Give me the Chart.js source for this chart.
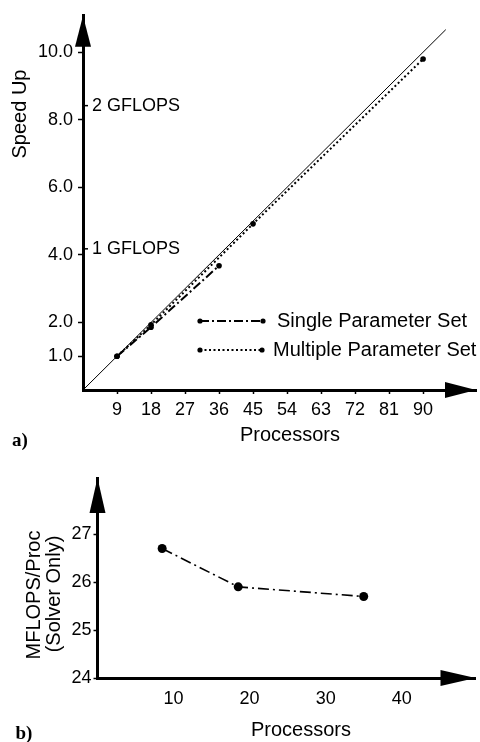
<!DOCTYPE html>
<html>
<head>
<meta charset="utf-8">
<script src="https://cdn.jsdelivr.net/npm/chart.js@4"></script>
<style>
  html, body { margin: 0; padding: 0; background: #fff; }
  #wrap { position: relative; width: 480px; height: 742px; }
  #speedup { position: absolute; left: 0; top: 0; }
  #rate { position: absolute; left: 0; top: 440px; }
</style>
</head>
<body>
<div id="wrap">
  <canvas id="speedup" width="480" height="460"></canvas>
  <canvas id="rate" width="480" height="302"></canvas>
</div>
<script>
// (a) speed-up against number of processors
const speedupTicksX = [9, 18, 27, 36, 45, 54, 63, 72, 81, 90];
const speedupTicksY = [1, 2, 4, 6, 8, 10];
const idealProcs = [0, 96];
const idealSpeedup = [0, 10.67];
const singleProcs = [9, 18, 36];
const singleSpeedup = [1.0, 1.86, 3.68];
const multiProcs = [9, 18, 45, 90];
const multiSpeedup = [1.0, 1.93, 4.92, 9.8];
const gflopsLabels = ['2 GFLOPS', '1 GFLOPS'];
const gflopsSpeedup = [8.42, 4.18];
const seriesNames = ['Single Parameter Set', 'Multiple Parameter Set'];

// (b) solver rate per processor
const rateTicksX = [10, 20, 30, 40];
const rateTicksY = [24, 25, 26, 27];
const rateProcs = [8.5, 18.5, 35];
const rateMflops = [26.7, 25.9, 25.7];

const SANS = '"Liberation Sans", Arial, Helvetica, sans-serif';
const SERIF = '"Liberation Serif", "Times New Roman", serif';
Chart.defaults.font.family = SANS;
Chart.defaults.color = '#000';

const pairs = (xs, ys) => xs.map((x, i) => ({ x, y: ys[i] }));

// filled arrowheads at the open ends of both axes
function axisArrows(len, half) {
  return {
    id: 'axisArrows',
    afterDraw(chart) {
      const { ctx, chartArea: a } = chart;
      ctx.save();
      ctx.fillStyle = '#000';
      ctx.beginPath();
      ctx.moveTo(a.left, a.top);
      ctx.lineTo(a.left - half, a.top + len);
      ctx.lineTo(a.left + half, a.top + len);
      ctx.closePath();
      ctx.fill();
      ctx.beginPath();
      ctx.moveTo(a.right, a.bottom);
      ctx.lineTo(a.right - len, a.bottom - half);
      ctx.lineTo(a.right - len, a.bottom + half);
      ctx.closePath();
      ctx.fill();
      ctx.restore();
    }
  };
}

// free-standing captions (axis titles, panel letters)
function captions(items) {
  return {
    id: 'captions',
    afterDraw(chart) {
      const ctx = chart.ctx;
      items.forEach(it => {
        ctx.save();
        ctx.fillStyle = '#000';
        ctx.font = it.font;
        ctx.textAlign = it.align || 'center';
        ctx.textBaseline = 'middle';
        ctx.translate(it.x, it.y);
        if (it.rotate) ctx.rotate(it.rotate);
        ctx.fillText(it.text, 0, 0);
        ctx.restore();
      });
    }
  };
}

// GFLOPS marks on the right side of the speed-up axis
const gflopsMarks = {
  id: 'gflopsMarks',
  afterDraw(chart) {
    const { ctx, chartArea: a } = chart;
    const ys = chart.scales.y;
    ctx.save();
    ctx.strokeStyle = '#000';
    ctx.fillStyle = '#000';
    ctx.lineWidth = 1.5;
    ctx.font = '18px ' + SANS;
    ctx.textAlign = 'left';
    ctx.textBaseline = 'middle';
    gflopsLabels.forEach((txt, i) => {
      const py = ys.getPixelForValue(gflopsSpeedup[i]);
      ctx.beginPath();
      ctx.moveTo(a.left, py);
      ctx.lineTo(a.left + 5, py);
      ctx.stroke();
      ctx.fillText(txt, a.left + 9, py);
    });
    ctx.restore();
  }
};

// legend: a short sample of each line with end dots, then its name
const lineLegend = {
  id: 'lineLegend',
  afterDraw(chart) {
    const ctx = chart.ctx;
    const rows = [
      { ds: chart.data.datasets[1], y: 321, x0: 200, x1: 263, tx: 277 },
      { ds: chart.data.datasets[2], y: 350, x0: 200, x1: 262, tx: 273 }
    ];
    ctx.save();
    rows.forEach(r => {
      ctx.strokeStyle = '#000';
      ctx.fillStyle = '#000';
      ctx.lineWidth = r.ds.borderWidth;
      ctx.setLineDash(r.ds.borderDash || []);
      ctx.beginPath();
      ctx.moveTo(r.x0, r.y);
      ctx.lineTo(r.x1, r.y);
      ctx.stroke();
      ctx.setLineDash([]);
      [r.x0, r.x1].forEach(px => {
        ctx.beginPath();
        ctx.arc(px, r.y, 2.6, 0, Math.PI * 2);
        ctx.fill();
      });
      ctx.font = '20px ' + SANS;
      ctx.textAlign = 'left';
      ctx.textBaseline = 'middle';
      ctx.fillText(r.ds.label, r.tx, r.y);
    });
    ctx.restore();
  }
};

const axisBorder = { display: true, color: '#000', width: 3 };

new Chart(document.getElementById('speedup'), {
  type: 'line',
  data: {
    datasets: [
      {
        label: 'ideal',
        data: pairs(idealProcs, idealSpeedup),
        borderColor: '#000',
        borderWidth: 1,
        pointRadius: 0,
        fill: false
      },
      {
        label: seriesNames[0],
        data: pairs(singleProcs, singleSpeedup),
        borderColor: '#000',
        backgroundColor: '#000',
        borderWidth: 2,
        borderDash: [9, 3, 2, 3],
        pointRadius: 2.8,
        pointBorderWidth: 0,
        fill: false
      },
      {
        label: seriesNames[1],
        data: pairs(multiProcs, multiSpeedup),
        borderColor: '#000',
        backgroundColor: '#000',
        borderWidth: 2,
        borderDash: [2, 2.5],
        pointRadius: 2.8,
        pointBorderWidth: 0,
        fill: false
      }
    ]
  },
  options: {
    responsive: false,
    animation: false,
    devicePixelRatio: 1,
    layout: { padding: { top: 12, right: 2, left: 0, bottom: 0 } },
    plugins: { legend: { display: false }, tooltip: { enabled: false } },
    scales: {
      x: {
        type: 'linear',
        min: 0,
        max: 104,
        afterBuildTicks: s => { s.ticks = speedupTicksX.map(v => ({ value: v })); },
        afterFit: s => { s.height = 70; },
        grid: { drawOnChartArea: false, drawTicks: true, tickLength: 4, tickColor: '#000', tickWidth: 1.5 },
        border: axisBorder,
        ticks: { font: { size: 18 }, padding: 5, maxRotation: 0, autoSkip: false }
      },
      y: {
        type: 'linear',
        min: 0,
        max: 11.08,
        afterBuildTicks: s => { s.ticks = speedupTicksY.map(v => ({ value: v })); },
        afterFit: s => { s.width = 83; },
        grid: { drawOnChartArea: false, drawTicks: true, tickLength: 5, tickColor: '#000', tickWidth: 1.5 },
        border: axisBorder,
        ticks: { font: { size: 18 }, padding: 5, autoSkip: false, callback: v => Number(v).toFixed(1) }
      }
    }
  },
  plugins: [
    axisArrows(31, 8),
    gflopsMarks,
    lineLegend,
    captions([
      { text: 'Speed Up', x: 20, y: 114, font: '20px ' + SANS, rotate: -Math.PI / 2 },
      { text: 'Processors', x: 290, y: 435, font: '20px ' + SANS },
      { text: 'a)', x: 20, y: 441, font: 'bold 19px ' + SERIF }
    ])
  ]
});

new Chart(document.getElementById('rate'), {
  type: 'line',
  data: {
    datasets: [
      {
        label: 'MFLOPS/Proc',
        data: pairs(rateProcs, rateMflops),
        borderColor: '#000',
        backgroundColor: '#000',
        borderWidth: 1.6,
        borderDash: [11, 4, 2, 4],
        pointRadius: 4.5,
        pointBorderWidth: 0,
        fill: false
      }
    ]
  },
  options: {
    responsive: false,
    animation: false,
    devicePixelRatio: 1,
    layout: { padding: { top: 38, right: 3, left: 0, bottom: 0 } },
    plugins: { legend: { display: false }, tooltip: { enabled: false } },
    scales: {
      x: {
        type: 'linear',
        min: 0,
        max: 49.7,
        afterBuildTicks: s => { s.ticks = rateTicksX.map(v => ({ value: v })); },
        afterFit: s => { s.height = 64; },
        grid: { drawOnChartArea: false, drawTicks: false },
        border: axisBorder,
        ticks: { font: { size: 18 }, padding: 10, maxRotation: 0, autoSkip: false }
      },
      y: {
        type: 'linear',
        min: 24,
        max: 28.17,
        afterBuildTicks: s => { s.ticks = rateTicksY.map(v => ({ value: v })); },
        afterFit: s => { s.width = 97.5; },
        grid: { drawOnChartArea: false, drawTicks: true, tickLength: 4, tickColor: '#000', tickWidth: 1.5 },
        border: axisBorder,
        ticks: { font: { size: 18 }, padding: 2, autoSkip: false }
      }
    }
  },
  plugins: [
    axisArrows(35, 8),
    captions([
      { text: 'MFLOPS/Proc', x: 34, y: 155, font: '20px ' + SANS, rotate: -Math.PI / 2 },
      { text: '(Solver Only)', x: 54, y: 154, font: '20px ' + SANS, rotate: -Math.PI / 2 },
      { text: 'Processors', x: 301, y: 290, font: '20px ' + SANS },
      { text: 'b)', x: 24, y: 294, font: 'bold 19px ' + SERIF }
    ])
  ]
});
</script>
</body>
</html>
